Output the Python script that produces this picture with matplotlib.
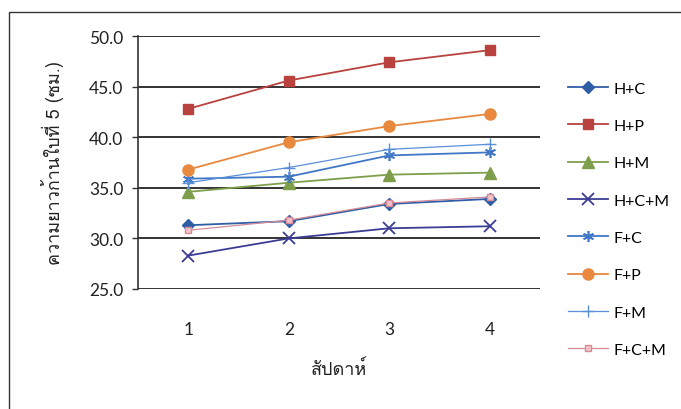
import matplotlib
matplotlib.use("Agg")
import matplotlib.pyplot as plt
from matplotlib import font_manager
from matplotlib.ft2font import FT2Font
from matplotlib.patches import Rectangle

# ---- data ----
weeks = [1, 2, 3, 4]
week_labels = ["1", "2", "3", "4"]
h_c = [31.3, 31.7, 33.4, 33.9]
h_p = [42.8, 45.6, 47.4, 48.6]
h_m = [34.6, 35.5, 36.3, 36.5]
h_c_m = [28.3, 30.0, 31.0, 31.2]
f_c = [35.9, 36.1, 38.2, 38.5]
f_p = [36.8, 39.5, 41.1, 42.3]
f_m = [35.5, 37.0, 38.8, 39.3]
f_c_m = [30.8, 31.8, 33.5, 34.1]
series_names = ["H+C", "H+P", "H+M", "H+C+M", "F+C", "F+P", "F+M", "F+C+M"]
yticks = [25.0, 30.0, 35.0, 40.0, 45.0, 50.0]
ylabel = "ความยาวก้านใบที่ 5 (ซม.)"
xlabel = "สัปดาห์"

# ---- find a font with Thai glyphs ----
thai_font = None
for fe in font_manager.fontManager.ttflist:
    try:
        f = FT2Font(fe.fname)
        cm = f.get_charmap()
        if 0x0E01 in cm and 0x0E2A in cm:
            thai_font = fe.name
            break
    except Exception:
        pass
thai_family = [thai_font, "DejaVu Sans"] if thai_font else ["DejaVu Sans"]
base_family = ["Lato", "DejaVu Sans"]
plt.rcParams["font.family"] = base_family

fig = plt.figure(figsize=(6.81, 4.10), dpi=100)
ax = fig.add_axes([138/681, 1 - 290/410, (540-138)/681, (290-37)/410])

# chart border
fig.patches.append(Rectangle((9/681, -0.05), 1.1, 1 - 13/410 + 0.05,
                             transform=fig.transFigure, fill=False,
                             edgecolor="#333333", linewidth=1.0))

styles = [
    (h_c, dict(color="#2F5EA6", marker="D", markersize=6, lw=1.3)),
    (h_p, dict(color="#B9423F", marker="s", markersize=7.5, lw=1.3)),
    (h_m, dict(color="#7E9E4C", marker="^", markersize=8, lw=1.3)),
    (h_c_m, dict(color="#3B3D94", marker="x", markersize=8, mew=1.3, lw=1.3)),
    (f_c, dict(color="#4077C6", marker=(6, 2, 0), markersize=8, mew=1.2, lw=1.3)),
    (f_p, dict(color="#E9893E", marker="o", markersize=8, lw=1.3)),
    (f_m, dict(color="#5B8FDA", marker="+", markersize=9, mew=1.0, lw=0.9)),
    (f_c_m, dict(color="#D58C98", marker="s", markersize=4.5, mfc="#F2C4CA", lw=0.9)),
]
for (vals, st), name in zip(styles, series_names):
    ax.plot(weeks, vals, label=name, **st)

ax.set_xlim(0.5, 4.5)
ax.set_ylim(25, 50)
ax.set_yticks(yticks)
ax.set_yticklabels([f"{v:.1f}" for v in yticks])
ax.set_xticks(weeks)
ax.set_xticklabels(week_labels)
ax.yaxis.grid(True, color="#333333", linewidth=1.4)
ax.set_axisbelow(True)
for s in ["top", "right", "bottom"]:
    ax.spines[s].set_visible(False)
ax.spines["left"].set_color("#333333")
ax.spines["left"].set_linewidth(1.2)
ax.tick_params(axis="y", length=4.5, width=1.0, color="#333333", pad=6,
               labelsize=12.5, labelcolor="#222222")
ax.tick_params(axis="x", length=0, pad=23, labelsize=12.5, labelcolor="#222222")

ax.set_ylabel(ylabel, fontsize=13, family=thai_family, labelpad=18, color="#222222")
ax.set_xlabel(xlabel, fontsize=13, family=thai_family, labelpad=16, color="#222222")

leg = fig.legend(loc="upper left", bbox_to_anchor=(562/681, 1 - 76/410),
                 frameon=False, fontsize=11.5, handlelength=2.5,
                 labelspacing=1.45, handletextpad=0.3, borderaxespad=0)

fig.savefig("out.png", dpi=100)
